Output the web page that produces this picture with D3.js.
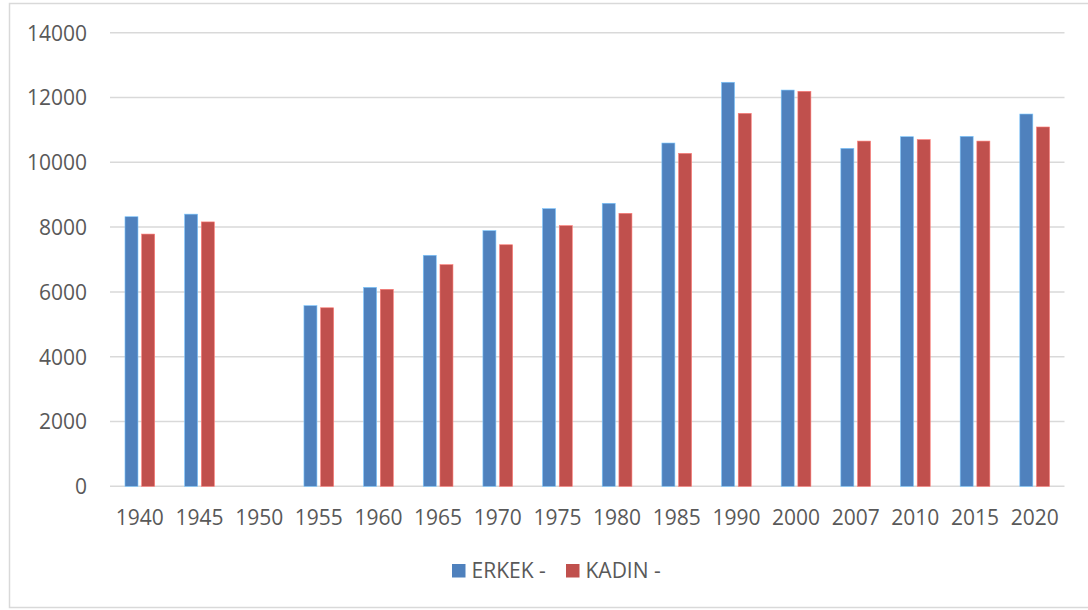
<!DOCTYPE html>
<html>
<head>
<meta charset="utf-8">
<script src="https://cdn.jsdelivr.net/npm/d3@7"></script>
<style>
  body { margin: 0; background: #fff; }
  svg text { font-family: "Open Sans", sans-serif; fill: #595959; }
</style>
</head>
<body>
<svg></svg>
<script>
width = 1088;
height = 610;

// data
let years = ["1940", "1945", "1950", "1955", "1960", "1965", "1970", "1975",
             "1980", "1985", "1990", "2000", "2007", "2010", "2015", "2020"];
let erkek = [8320, 8400, null, 5575, 6140, 7130, 7890, 8570,
             8735, 10595, 12470, 12230, 10430, 10790, 10800, 11490];
let kadin = [7785, 8160, null, 5510, 6080, 6840, 7455, 8045,
             8425, 10275, 11510, 12190, 10655, 10700, 10655, 11090];
let yTicks = [0, 2000, 4000, 6000, 8000, 10000, 12000, 14000];
let seriesNames = ["ERKEK -", "KADIN -"];
let colors = ["#4F81BD", "#C0504D"];

let svg = d3.select("svg").attr("width", width).attr("height", height);

// outer chart border (right edge runs off the window)
svg.append("rect")
    .attr("x", 9.5)
    .attr("y", 3.5)
    .attr("width", 1100)
    .attr("height", 604)
    .style("fill", "none")
    .style("stroke", "#d9d9d9")
    .style("stroke-width", 1.5);

let x = d3.scaleBand()
    .domain(years)
    .range([110, 1064.5]);

let y = d3.scaleLinear()
    .domain([0, 14000])
    .range([486.3, 32.7]);

// gridlines
svg.append("g")
    .selectAll("line")
    .data(yTicks)
    .join("line")
    .attr("x1", 110)
    .attr("x2", 1064.5)
    .attr("y1", d => y(d))
    .attr("y2", d => y(d))
    .style("stroke", "#d9d9d9")
    .style("stroke-width", 1.5);

// y axis labels
let yAxis = d3.axisLeft(y).tickValues(yTicks).tickFormat(d3.format("d")).tickSize(0).tickPadding(0);
let gy = svg.append("g")
    .attr("transform", "translate(87,0)")
    .call(yAxis);
gy.select(".domain").remove();
gy.selectAll("text")
    .attr("dy", "0.35em")
    .style("font-size", "21px")
    .style("font-family", "'Open Sans', sans-serif")
    .style("fill", "#595959");

// x axis labels
let xAxis = d3.axisBottom(x).tickSize(0).tickPadding(0);
let gx = svg.append("g")
    .attr("transform", "translate(0,525)")
    .call(xAxis);
gx.select(".domain").remove();
gx.selectAll("text")
    .attr("dy", "0")
    .attr("y", 0)
    .style("font-size", "21px")
    .style("font-family", "'Open Sans', sans-serif")
    .style("fill", "#595959");

// bars
let barW = 13;
let gap = 3.7;
let series = [erkek, kadin];

series.forEach(function(vals, s) {
    svg.append("g")
        .selectAll("rect")
        .data(years.map((yr, i) => ({yr: yr, v: vals[i]})).filter(d => d.v != null))
        .join("rect")
        .attr("x", d => x(d.yr) + x.bandwidth() / 2 + (s === 0 ? -gap / 2 - barW : gap / 2))
        .attr("y", d => y(d.v))
        .attr("width", barW)
        .attr("height", d => y(0) - y(d.v))
        .style("fill", colors[s])
        .style("stroke", d3.color(colors[s]).brighter(1.2))
        .style("stroke-width", 0.6);
});

// legend
let legendX = [452, 566];
let legend = svg.append("g");
seriesNames.forEach(function(name, s) {
    legend.append("rect")
        .attr("x", legendX[s])
        .attr("y", 564)
        .attr("width", 13.5)
        .attr("height", 13.5)
        .style("fill", colors[s]);
    legend.append("text")
        .attr("x", legendX[s] + 19.5)
        .attr("y", 578)
        .style("font-size", "21px")
        .text(name);
});
</script>
</body>
</html>
